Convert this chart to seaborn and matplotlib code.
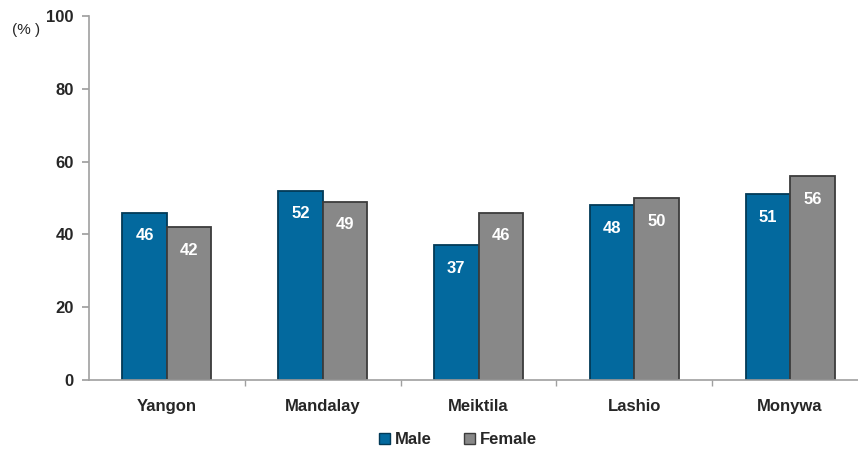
import pandas as pd
import matplotlib.pyplot as plt
import seaborn as sns
from matplotlib.patches import Patch

# data
cities = ['Yangon', 'Mandalay', 'Meiktila', 'Lashio', 'Monywa']
male = [46, 52, 37, 48, 51]
female = [42, 49, 46, 50, 56]
groups = ['Male', 'Female']

df = pd.DataFrame({
    'City': cities * 2,
    'Sex': ['Male'] * len(cities) + ['Female'] * len(cities),
    'Value': male + female,
})

sns.set_theme(style="white")
plt.rcParams['font.family'] = ['Liberation Sans', 'DejaVu Sans']

colors = {'Male': '#03699e', 'Female': '#888888'}
edges = {'Male': '#023a57', 'Female': '#3c3c3c'}

fig = plt.figure(figsize=(8.58, 4.51), dpi=100)
ax = fig.add_axes([89 / 858, 71 / 451, 779 / 858, 364 / 451])

sns.barplot(data=df, x='City', y='Value', hue='Sex', hue_order=groups,
            palette=colors, width=0.57, gap=0.0, edgecolor='#2a2a2a',
            linewidth=1.3, saturation=1, legend=False, ax=ax)

# darker outline per series, value labels in white inside the bars
for cont, g in zip(ax.containers, groups):
    for bar in cont:
        bar.set_edgecolor(edges[g])
    ax.bar_label(cont, labels=[f'{v:.0f}' for v in cont.datavalues],
                 label_type='edge', padding=-22, color='white',
                 fontsize=12, fontweight='bold')

ax.set_ylim(0, 100)
ax.set_yticks(range(0, 101, 20))
ax.set_xlim(-0.5, len(cities) - 0.5)
ax.set_xlabel('')
ax.set_ylabel('')

for side in ['top', 'right']:
    ax.spines[side].set_visible(False)
for side in ['left', 'bottom']:
    ax.spines[side].set_color('#a0a0a0')
    ax.spines[side].set_linewidth(1.2)

ax.tick_params(axis='y', direction='out', length=5, color='#a0a0a0',
               labelsize=12, pad=6, left=True)
ax.tick_params(axis='x', length=0, labelsize=12, pad=14)
for lab in ax.get_xticklabels() + ax.get_yticklabels():
    lab.set_fontweight('bold')

# category boundary ticks on x axis
ax.set_xticks([i + 0.5 for i in range(len(cities) - 1)], minor=True)
ax.tick_params(axis='x', which='minor', direction='out', length=4,
               color='#a0a0a0', bottom=True)

fig.text(12 / 858, 1 - 30 / 451, '(% )', fontsize=11,
         va='center', ha='left')

handles = [Patch(facecolor=colors[g], edgecolor=edges[g], label=g) for g in groups]
fig.legend(handles=handles, loc='center', bbox_to_anchor=(458 / 858, 1 - 440 / 451),
           ncol=2, frameon=False, handlelength=0.65, handleheight=0.65,
           handletextpad=0.3, columnspacing=1.9, prop={'weight': 'bold', 'size': 12})

fig.savefig('out.png', dpi=100)
